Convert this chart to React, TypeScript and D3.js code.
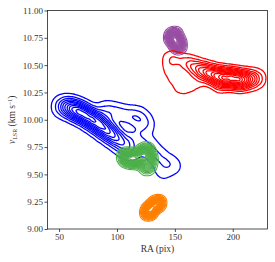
import React, { useEffect, useRef } from 'react';
import * as d3 from 'd3';

const WIDTH = 275;
const HEIGHT = 262;

const MARGIN = {
  top: 10.5,
  right: 7.5,
  bottom: 33,
  left: 47.5,
};

const RA_DOMAIN = [40, 230];
const V_DOMAIN = [9, 11];
const RA_TICKS = [50, 100, 150, 200];
const V_TICKS = [9, 9.25, 9.5, 9.75, 10, 10.25, 10.5, 10.75, 11];

// [RA, v, weight] samples, one list per cloud
const blueSamples = [
  [52, 10.12, 1], [58, 10.12, 2], [64, 10.09, 3], [70, 10.06, 3],
  [76, 10.02, 3], [82, 9.98, 3], [88, 9.93, 3], [94, 9.88, 2.5],
  [100, 9.83, 2], [106, 9.77, 1.5], [112, 9.72, 1],
  [90, 10.08, 1], [100, 10.06, 1], [110, 10.03, 1], [120, 10.0, 0.8],
  [125, 9.95, 0.6], [118, 10.05, 0.4],
  [115, 9.85, 0.8], [125, 9.78, 0.8], [132, 9.7, 0.7], [138, 9.64, 0.5],
  [145, 9.6, 0.45], [150, 9.57, 0.3], [140, 9.55, 0.25],
  [136, 9.5, 0.15], [143, 9.43, 0.12],
];

const greenSamples = [
  [108, 9.66, 1], [112, 9.64, 1], [117, 9.64, 0.9], [121, 9.67, 0.9],
  [125, 9.71, 1], [127, 9.64, 1], [126, 9.57, 0.7],
];

const orangeSamples = [
  [127, 9.15, 1], [129, 9.18, 1], [133, 9.22, 1], [136, 9.24, 0.8],
];

const purpleSamples = [
  [148, 10.75, 1], [152, 10.71, 1], [153, 10.67, 0.7], [150, 10.78, 0.6],
];

const redSamples = [
  [160, 10.52, 0.8], [167, 10.48, 1.2], [174, 10.45, 1.8], [181, 10.42, 2.4],
  [188, 10.40, 2.6], [195, 10.39, 3], [202, 10.38, 3], [209, 10.37, 2.6],
  [216, 10.37, 1.6], [222, 10.38, 0.6],
  [190, 10.33, 1], [205, 10.33, 0.8],
  [150, 10.55, 0.5], [145, 10.56, 0.35], [145, 10.46, 0.3], [149, 10.38, 0.3],
  [155, 10.3, 0.4], [162, 10.31, 0.3], [170, 10.34, 0.3],
];

const CLOUDS = [
  { samples: blueSamples, color: '#0000ff', bandwidth: 6, levels: 10, width: 1.3 },
  { samples: greenSamples, color: '#4daf4a', bandwidth: 4.5, levels: 20, width: 1.1 },
  { samples: orangeSamples, color: '#ff7f00', bandwidth: 3.8, levels: 20, width: 1.1 },
  { samples: purpleSamples, color: '#984ea3', bandwidth: 4, levels: 20, width: 1.1 },
  { samples: redSamples, color: '#ff0000', bandwidth: 5.5, levels: 12, width: 1.3 },
];

export default function App() {
  const ref = useRef<SVGSVGElement>(null);

  useEffect(() => {
    const svg = d3.select(ref.current);
    svg.selectAll('*').remove();

    const innerW = WIDTH - MARGIN.left - MARGIN.right;
    const innerH = HEIGHT - MARGIN.top - MARGIN.bottom;

    const x = d3.scaleLinear().domain(RA_DOMAIN).range([0, innerW]);
    const y = d3.scaleLinear().domain(V_DOMAIN).range([innerH, 0]);

    svg.append('defs')
      .append('clipPath')
      .attr('id', 'plotClip')
      .append('rect')
      .attr('width', innerW)
      .attr('height', innerH);

    const g = svg.append('g')
      .attr('transform', `translate(${MARGIN.left}, ${MARGIN.top})`);

    const plot = g.append('g').attr('clip-path', 'url(#plotClip)');

    CLOUDS.forEach(cloud => {
      const density = d3.contourDensity<number[]>()
        .x(d => x(d[0]))
        .y(d => y(d[1]))
        .weight(d => d[2])
        .size([innerW, innerH])
        .cellSize(1)
        .bandwidth(cloud.bandwidth);

      const gen = density.contours(cloud.samples);
      const max = gen.max;
      const n = cloud.levels;
      const thresholds = d3.range(n).map(i => max * (0.05 + 0.9 * i / (n - 1)));

      plot.append('g')
        .selectAll('path')
        .data(thresholds.map(t => gen(t)))
        .join('path')
        .attr('d', d3.geoPath())
        .attr('fill', 'none')
        .attr('stroke', cloud.color)
        .attr('stroke-width', cloud.width)
        .attr('stroke-linejoin', 'round');
    });

    const font = "'Liberation Serif', serif";

    g.append('g')
      .attr('transform', `translate(0, ${innerH})`)
      .call(d3.axisBottom(x).tickValues(RA_TICKS).tickSize(3).tickPadding(1.5).tickSizeOuter(0))
      .call(a => a.select('.domain').remove())
      .call(a => a.selectAll('text').attr('font-family', font).attr('font-size', 9).attr('fill', '#333'))
      .call(a => a.selectAll('line').attr('stroke', '#222').attr('stroke-width', 0.8));

    g.append('g')
      .call(d3.axisLeft(y).tickValues(V_TICKS).tickFormat(d3.format('.2f')).tickSize(3).tickPadding(1.5).tickSizeOuter(0))
      .call(a => a.select('.domain').remove())
      .call(a => a.selectAll('text').attr('font-family', font).attr('font-size', 9).attr('fill', '#333'))
      .call(a => a.selectAll('line').attr('stroke', '#222').attr('stroke-width', 0.8));

    g.append('rect')
      .attr('width', innerW)
      .attr('height', innerH)
      .attr('fill', 'none')
      .attr('stroke', '#222')
      .attr('stroke-width', 0.8);

    g.append('text')
      .attr('x', innerW / 2)
      .attr('y', innerH + 23)
      .attr('text-anchor', 'middle')
      .attr('font-family', font)
      .attr('font-size', 9.5)
      .attr('fill', '#333')
      .text('RA (pix)');

    const yLabel = g.append('text')
      .attr('transform', `translate(${-32.5}, ${innerH / 2}) rotate(-90)`)
      .attr('text-anchor', 'middle')
      .attr('font-family', font)
      .attr('font-size', 9.5)
      .attr('fill', '#333');
    yLabel.append('tspan').attr('font-style', 'italic').text('v');
    yLabel.append('tspan').attr('font-size', 6).attr('dy', 2).text('LSR');
    yLabel.append('tspan').attr('dy', -2).text(' (km s');
    yLabel.append('tspan').attr('font-size', 6).attr('dy', -3.5).text('−1');
    yLabel.append('tspan').attr('dy', 3.5).text(')');
  }, []);

  return (
    <svg
      ref={ref}
      width={WIDTH}
      height={HEIGHT}
      style={{ position: 'absolute', left: 0, top: 0, background: '#fff' }}
    />
  );
}
